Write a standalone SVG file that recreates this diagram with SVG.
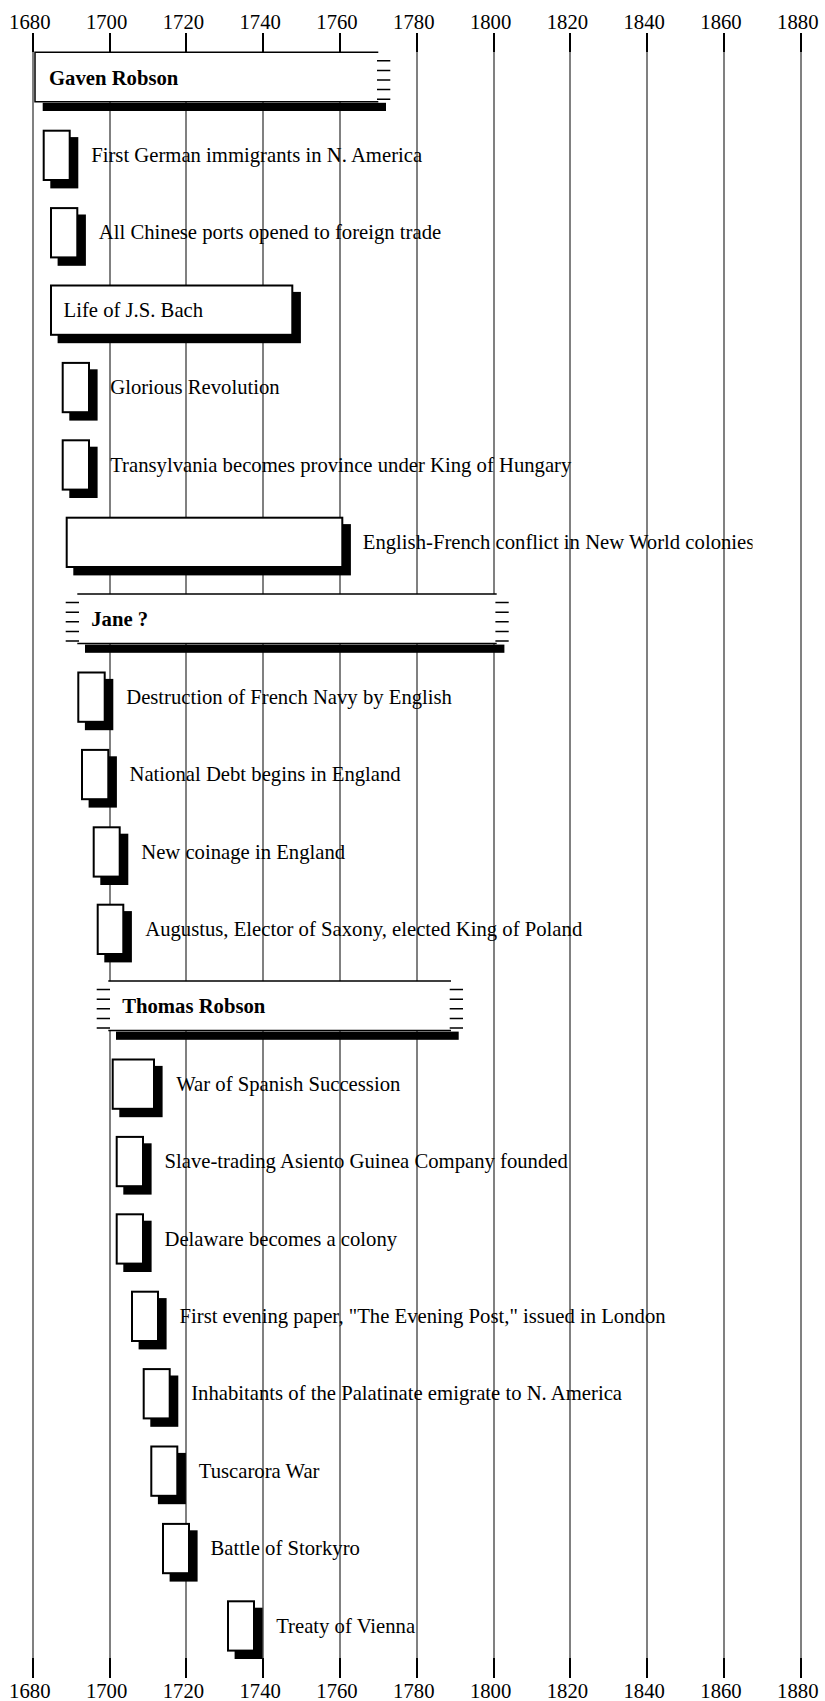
<svg xmlns="http://www.w3.org/2000/svg" xmlns:xlink="http://www.w3.org/1999/xlink" width="825" height="1701" viewBox="0 0 825 1701">
<style>
.grid{stroke:#808080;stroke-width:2}
.tick{stroke:#000;stroke-width:2}
text{font-family:"Liberation Serif","Times New Roman",serif;font-size:20.7px;fill:#000}
.yr{text-anchor:middle}
.name{font-weight:bold}
.box{fill:#fff;stroke:#000;stroke-width:2}
.shadow{fill:#000}
.pbox{fill:#fff}
.pline{stroke:#000;stroke-width:1.5;fill:none}
</style>
<defs>
<path id="hatch" d="M0 9.5h13.3M0 19.1h13.3M0 28.7h13.3M0 38.3h13.3M0 47.9h13.3" stroke="#000" stroke-width="1.5"/>
<clipPath id="clipEF"><rect x="0" y="500" width="752.5" height="70"/></clipPath>
</defs>
<rect width="825" height="1701" fill="#fff"/>
<g id="axis">
<g class="grid">
<line x1="33" y1="33" x2="33" y2="1678"/>
<line x1="110" y1="33" x2="110" y2="1678"/>
<line x1="186" y1="33" x2="186" y2="1678"/>
<line x1="263" y1="33" x2="263" y2="1678"/>
<line x1="340" y1="33" x2="340" y2="1678"/>
<line x1="417" y1="33" x2="417" y2="1678"/>
<line x1="494" y1="33" x2="494" y2="1678"/>
<line x1="570" y1="33" x2="570" y2="1678"/>
<line x1="647" y1="33" x2="647" y2="1678"/>
<line x1="724" y1="33" x2="724" y2="1678"/>
<line x1="801" y1="33" x2="801" y2="1678"/>
</g>
<path class="tick" d="M33 33V52M110 33V52M186 33V52M263 33V52M340 33V52M417 33V52M494 33V52M570 33V52M647 33V52M724 33V52M801 33V52M33 1658V1678M110 1658V1678M186 1658V1678M263 1658V1678M340 1658V1678M417 1658V1678M494 1658V1678M570 1658V1678M647 1658V1678M724 1658V1678M801 1658V1678"/>
<g class="yr">
<text class="yr" x="29.8" y="29.3">1680</text>
<text class="yr" x="106.6" y="29.3">1700</text>
<text class="yr" x="183.4" y="29.3">1720</text>
<text class="yr" x="260.2" y="29.3">1740</text>
<text class="yr" x="337" y="29.3">1760</text>
<text class="yr" x="413.8" y="29.3">1780</text>
<text class="yr" x="490.6" y="29.3">1800</text>
<text class="yr" x="567.4" y="29.3">1820</text>
<text class="yr" x="644.2" y="29.3">1840</text>
<text class="yr" x="721" y="29.3">1860</text>
<text class="yr" x="797.8" y="29.3">1880</text>
<text class="yr" x="29.8" y="1697.7">1680</text>
<text class="yr" x="106.6" y="1697.7">1700</text>
<text class="yr" x="183.4" y="1697.7">1720</text>
<text class="yr" x="260.2" y="1697.7">1740</text>
<text class="yr" x="337" y="1697.7">1760</text>
<text class="yr" x="413.8" y="1697.7">1780</text>
<text class="yr" x="490.6" y="1697.7">1800</text>
<text class="yr" x="567.4" y="1697.7">1820</text>
<text class="yr" x="644.2" y="1697.7">1840</text>
<text class="yr" x="721" y="1697.7">1860</text>
<text class="yr" x="797.8" y="1697.7">1880</text>
</g>
</g>
<g id="connectors"/>
<g id="gaven-robson">
<rect class="shadow" x="42.7" y="102.8" width="343.3" height="8.2"/>
<rect class="pbox" x="35" y="52.3" width="343.3" height="49.5"/>
<path class="pline" d="M378.3 52.3H35V101.8H378.3"/>
<use xlink:href="#hatch" href="#hatch" x="377" y="51.3"/>
<text class="name" x="49" y="84.5">Gaven Robson</text>
</g>
<g id="first-german-immigrants">
<rect class="shadow" x="50.3" y="137.1" width="28" height="51.3"/>
<rect class="box" x="43.7" y="130.7" width="26" height="49.3"/>
<text x="91.2" y="162">First German immigrants in N. America</text>
</g>
<g id="chinese-ports">
<rect class="shadow" x="57.6" y="214.5" width="28.3" height="51.3"/>
<rect class="box" x="51" y="208.1" width="26.3" height="49.3"/>
<text x="98.8" y="239.4">All Chinese ports opened to foreign trade</text>
</g>
<g id="life-of-bach">
<rect class="shadow" x="57.6" y="291.9" width="243.3" height="51.3"/>
<rect class="box" x="51" y="285.5" width="241.3" height="49.3"/>
<text x="63.5" y="316.8">Life of J.S. Bach</text>
</g>
<g id="glorious-revolution">
<rect class="shadow" x="69.3" y="369.3" width="28.3" height="51.3"/>
<rect class="box" x="62.7" y="362.9" width="26.3" height="49.3"/>
<text x="110.2" y="394.2">Glorious Revolution</text>
</g>
<g id="transylvania">
<rect class="shadow" x="69.3" y="446.7" width="28.3" height="51.3"/>
<rect class="box" x="62.7" y="440.3" width="26.3" height="49.3"/>
<text x="110.2" y="471.6">Transylvania becomes province under King of Hungary</text>
</g>
<g id="english-french-conflict">
<rect class="shadow" x="73.3" y="524.1" width="277.6" height="51.3"/>
<rect class="box" x="66.7" y="517.7" width="275.6" height="49.3"/>
<text x="362.8" y="549" clip-path="url(#clipEF)">English-French conflict in New World colonies</text>
</g>
<g id="jane">
<rect class="shadow" x="85" y="644.6" width="419.4" height="8.2"/>
<rect class="pbox" x="77.3" y="594.1" width="419.4" height="49.5"/>
<path class="pline" d="M77.3 594.1H496.7M77.3 643.6H496.7"/>
<use xlink:href="#hatch" href="#hatch" x="65.7" y="593.1"/>
<use xlink:href="#hatch" href="#hatch" x="495.4" y="593.1"/>
<text class="name" x="91.2" y="626.4">Jane ?</text>
</g>
<g id="destruction-french-navy">
<rect class="shadow" x="84.9" y="678.9" width="28.4" height="51.3"/>
<rect class="box" x="78.3" y="672.5" width="26.4" height="49.3"/>
<text x="126.2" y="703.8">Destruction of French Navy by English</text>
</g>
<g id="national-debt">
<rect class="shadow" x="88.6" y="756.3" width="28.3" height="51.3"/>
<rect class="box" x="82" y="749.9" width="26.3" height="49.3"/>
<text x="129.5" y="781.2">National Debt begins in England</text>
</g>
<g id="new-coinage">
<rect class="shadow" x="100.3" y="833.7" width="28" height="51.3"/>
<rect class="box" x="93.7" y="827.3" width="26" height="49.3"/>
<text x="141.2" y="858.6">New coinage in England</text>
</g>
<g id="augustus-elector">
<rect class="shadow" x="104.3" y="911.1" width="27.6" height="51.3"/>
<rect class="box" x="97.7" y="904.7" width="25.6" height="49.3"/>
<text x="145.2" y="936">Augustus, Elector of Saxony, elected King of Poland</text>
</g>
<g id="thomas-robson">
<rect class="shadow" x="116" y="1031.6" width="342.7" height="8.2"/>
<rect class="pbox" x="108.3" y="981.1" width="342.7" height="49.5"/>
<path class="pline" d="M108.3 981.1H451M108.3 1030.6H451"/>
<use xlink:href="#hatch" href="#hatch" x="96.7" y="980.1"/>
<use xlink:href="#hatch" href="#hatch" x="449.7" y="980.1"/>
<text class="name" x="122.2" y="1013.4">Thomas Robson</text>
</g>
<g id="war-spanish-succession">
<rect class="shadow" x="119.3" y="1065.9" width="43.3" height="51.3"/>
<rect class="box" x="112.7" y="1059.5" width="41.3" height="49.3"/>
<text x="176.2" y="1090.8">War of Spanish Succession</text>
</g>
<g id="asiento-guinea-company">
<rect class="shadow" x="123.3" y="1143.3" width="28.3" height="51.3"/>
<rect class="box" x="116.7" y="1136.9" width="26.3" height="49.3"/>
<text x="164.5" y="1168.2">Slave-trading Asiento Guinea Company founded</text>
</g>
<g id="delaware-colony">
<rect class="shadow" x="123.3" y="1220.7" width="28.3" height="51.3"/>
<rect class="box" x="116.7" y="1214.3" width="26.3" height="49.3"/>
<text x="164.5" y="1245.6">Delaware becomes a colony</text>
</g>
<g id="evening-post">
<rect class="shadow" x="138.6" y="1298.1" width="28" height="51.3"/>
<rect class="box" x="132" y="1291.7" width="26" height="49.3"/>
<text x="179.5" y="1323">First evening paper, "The Evening Post," issued in London</text>
</g>
<g id="palatinate-emigration">
<rect class="shadow" x="150.3" y="1375.5" width="28" height="51.3"/>
<rect class="box" x="143.7" y="1369.1" width="26" height="49.3"/>
<text x="191.2" y="1400.4">Inhabitants of the Palatinate emigrate to N. America</text>
</g>
<g id="tuscarora-war">
<rect class="shadow" x="157.9" y="1452.9" width="28" height="51.3"/>
<rect class="box" x="151.3" y="1446.5" width="26" height="49.3"/>
<text x="198.8" y="1477.8">Tuscarora War</text>
</g>
<g id="battle-storkyro">
<rect class="shadow" x="169.6" y="1530.3" width="28" height="51.3"/>
<rect class="box" x="163" y="1523.9" width="26" height="49.3"/>
<text x="210.5" y="1555.2">Battle of Storkyro</text>
</g>
<g id="treaty-vienna">
<rect class="shadow" x="234.6" y="1607.7" width="28" height="51.3"/>
<rect class="box" x="228" y="1601.3" width="26" height="49.3"/>
<text x="276.2" y="1632.6">Treaty of Vienna</text>
</g>
</svg>
